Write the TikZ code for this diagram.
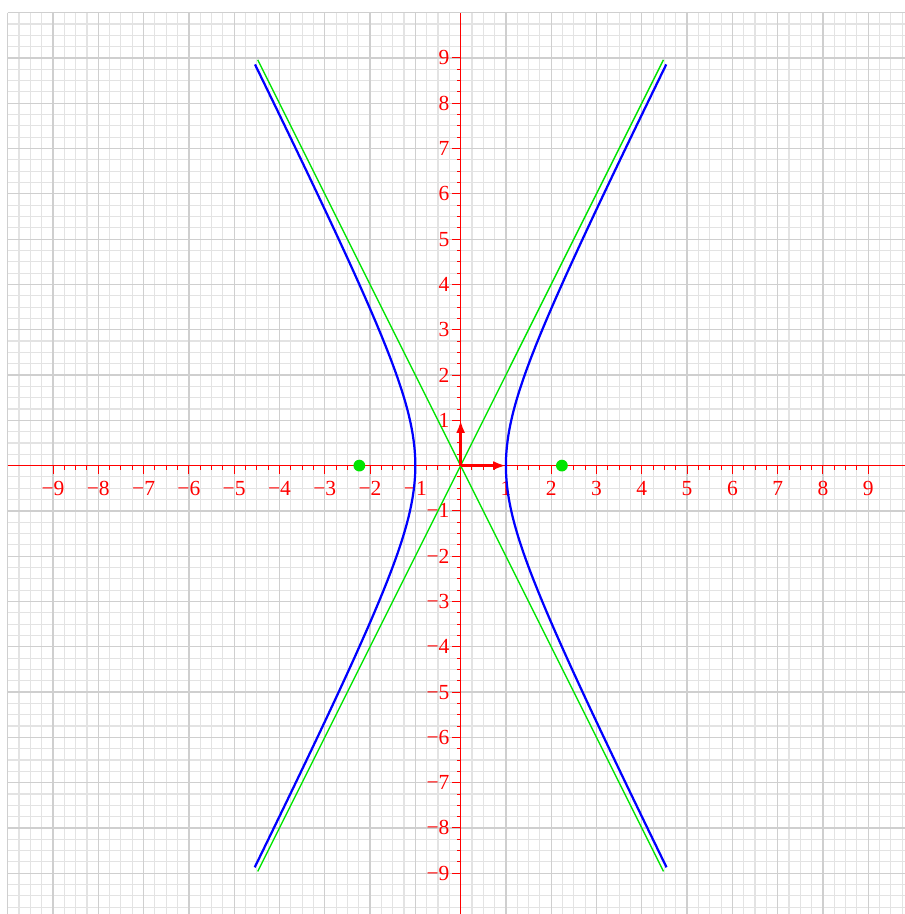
\documentclass[tikz,border=0pt]{standalone}
\usetikzlibrary{arrows.meta}
\usepackage{fontspec}
\setmainfont{Liberation Serif}
\begin{document}
\begin{tikzpicture}[x=1cm,y=1cm,
  minorgrid/.style={gray!22,line width=0.7pt},
  majorgrid/.style={gray!38,line width=0.8pt},
  axisline/.style={red,line width=0.6pt},
  ticklbl/.style={red,font=\fontsize{13.5}{15}\selectfont,inner sep=0pt},
  vec/.style={red,line width=1.6pt,-{Latex[length=2.8mm,width=2mm]}},
  hyp/.style={blue,line width=1.4pt},
  asym/.style={green!90!black,line width=0.9pt},
  focus/.style={circle,fill=green!90!black,inner sep=0pt,minimum size=2.6mm}]
\useasboundingbox (-10.17,-9.90) rectangle (9.79,10.28);
\fill[white] (-10.17,-9.90) rectangle (9.79,10.28);
% grid
\draw[minorgrid] (-10,-10) grid[step=0.25] (10,10);
\draw[majorgrid] (-10,-10) grid[step=1] (10,10);
% axes
\draw[axisline] (-10,0) -- (10,0);
\draw[axisline] (0,-10) -- (0,10);
\foreach \i in {-36,...,36}{
  \ifnum\i=0\else
    \pgfmathsetmacro{\v}{\i/4}
    \pgfmathtruncatemacro{\m}{mod(abs(\i),4)}
    \ifnum\m=0
      \draw[axisline] (\v,0) -- (\v,-0.18);
      \draw[axisline] (0,\v) -- (-0.18,\v);
    \else
      \draw[axisline] (\v,0) -- (\v,-0.09);
      \draw[axisline] (0,\v) -- (-0.09,\v);
    \fi
  \fi
}
\foreach \k in {1,...,9}{
  \node[ticklbl] (xp\k) at (\k,-0.5) {\k};
  \node[ticklbl] (xn\k) at (-\k,-0.5) {−\k};
  \node[ticklbl,anchor=east] (yp\k) at (-0.24,\k) {\k};
  \node[ticklbl,anchor=east] (yn\k) at (-0.24,-\k) {−\k};
}
% asymptotes
\coordinate (a1) at (-4.48,8.96);
\coordinate (a2) at (4.48,-8.96);
\coordinate (a3) at (4.48,8.96);
\coordinate (a4) at (-4.48,-8.96);
\draw[asym] (a1) -- (a2);
\draw[asym] (a3) -- (a4);
% hyperbola
\draw[hyp,domain=-2.195:2.195,samples=120,variable=\t] plot ({cosh(\t)},{2*sinh(\t)});
\draw[hyp,domain=-2.195:2.195,samples=120,variable=\t] plot ({-cosh(\t)},{2*sinh(\t)});
% foci
\node[focus] (f1) at (2.236,0) {};
\node[focus] (f2) at (-2.236,0) {};
% basis vectors
\coordinate (o) at (0,0);
\coordinate (e1) at (1,0);
\coordinate (e2) at (0,1);
\draw[vec] (o) -- (e1);
\draw[vec] (o) -- (e2);
\end{tikzpicture}
\end{document}
